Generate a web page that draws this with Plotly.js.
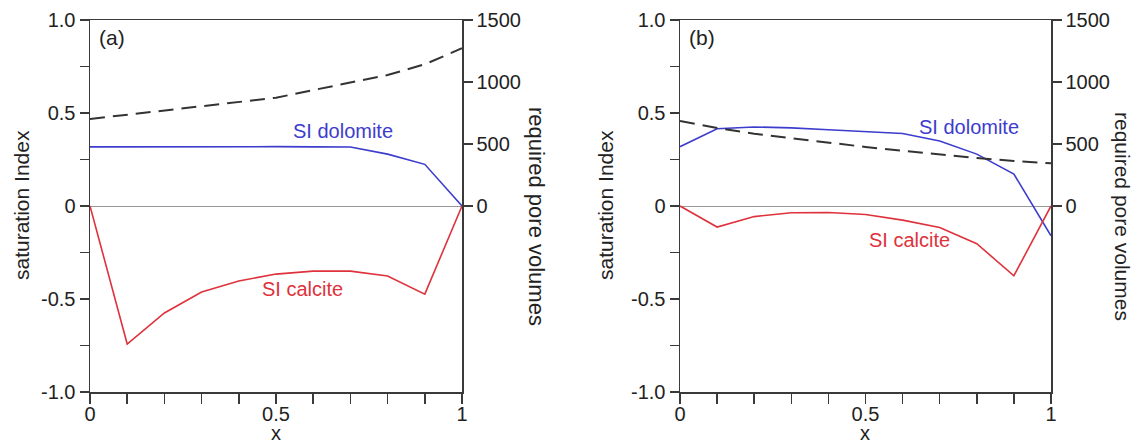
<!DOCTYPE html>
<html>
<head>
<meta charset="utf-8">
<script src="https://cdn.plot.ly/plotly-3.0.1.min.js"></script>
<style>html,body{margin:0;padding:0;background:#fff;}#chart{width:1136px;height:445px;}</style>
</head>
<body>
<div id="chart"></div>
<script>
// ---- data ----
const xPos = [0, 0.1, 0.2, 0.3, 0.4, 0.5, 0.6, 0.7, 0.8, 0.9, 1.0];

// panel (a)
const siDolomiteA = [0.318, 0.319, 0.32, 0.32, 0.32, 0.319, 0.318, 0.317, 0.279, 0.224, 0];
const siCalciteA  = [0, -0.742, -0.575, -0.462, -0.403, -0.366, -0.35, -0.35, -0.376, -0.474, 0];
const poreVolA    = [702, 736, 774, 804, 839, 873, 935, 994, 1056, 1143, 1272];

// panel (b)
const siDolomiteB = [0.319, 0.415, 0.425, 0.42, 0.41, 0.40, 0.39, 0.349, 0.279, 0.172, -0.16];
const siCalciteB  = [0, -0.113, -0.057, -0.036, -0.035, -0.046, -0.076, -0.116, -0.203, -0.375, 0];
const poreVolB    = [686, 629, 583, 546, 508, 476, 446, 414, 387, 363, 344];

// tick labels
const siTickVals = [-1, -0.75, -0.5, -0.25, 0, 0.25, 0.5, 0.75, 1];
const siTickText = ['-1.0', '', '-0.5', '', '0', '', '0.5', '', '1.0'];
const pvTickVals = [0, 500, 1000, 1500];
const pvTickText = ['0', '500', '1000', '1500'];
const xTickVals  = xPos;
const xTickText  = ['0', '', '', '', '', '0.5', '', '', '', '', '1'];

const labelDolomite = 'SI dolomite';
const labelCalcite = 'SI calcite';
const titleLeft = 'saturation Index';
const titleRight = 'required pore volumes';
const titleX = 'x';

// ---- styling ----
const W = 1136, H = 445;
const FONT = '"Liberation Sans", Arial, Helvetica, sans-serif';
const BLUE = 'rgb(60,60,205)';
const RED = 'rgb(222,50,60)';
const AXC = '#3a3a3a';
const TXT = '#222';
const px = v => v / W;
const py = v => 1 - v / H;

const yDom = [py(392), py(20)];
const xDomA = [px(90), px(462)];
const xDomB = [px(680), px(1051)];

function xAxis(dom, anchor) {
  return {
    domain: dom, anchor: anchor, range: [0, 1],
    showline: true, mirror: true, linecolor: AXC, linewidth: 1.5,
    showgrid: false, zeroline: false,
    tickmode: 'array', tickvals: xTickVals, ticktext: xTickText,
    ticks: 'outside', ticklen: 10, tickwidth: 1.5, tickcolor: AXC,
    ticklabelstandoff: -7,
    tickfont: {family: FONT, size: 20, color: TXT}
  };
}
function yLeft(anchor) {
  return {
    domain: yDom, anchor: anchor, range: [-1, 1],
    showline: true, linecolor: AXC, linewidth: 1.5,
    showgrid: false, zeroline: true, zerolinecolor: '#999', zerolinewidth: 1,
    tickmode: 'array', tickvals: siTickVals, ticktext: siTickText,
    ticks: 'outside', ticklen: 9, tickwidth: 1.5, tickcolor: AXC,
    tickfont: {family: FONT, size: 20, color: TXT}
  };
}
function yRight(anchor, over) {
  return {
    domain: yDom, anchor: anchor, overlaying: over, side: 'right', range: [-1500, 1500],
    showline: true, linecolor: AXC, linewidth: 1.5,
    showgrid: false, zeroline: false,
    tickmode: 'array', tickvals: pvTickVals, ticktext: pvTickText,
    ticks: 'outside', ticklen: 9, tickwidth: 1.5, tickcolor: AXC,
    tickfont: {family: FONT, size: 20, color: TXT}
  };
}

const traces = [
  {x: xPos, y: poreVolA, xaxis: 'x', yaxis: 'y2', mode: 'lines', line: {color: '#333', width: 2, dash: '15px,8px'}, hoverinfo: 'none'},
  {x: xPos, y: siDolomiteA, xaxis: 'x', yaxis: 'y', mode: 'lines', line: {color: BLUE, width: 1.6}},
  {x: xPos, y: siCalciteA, xaxis: 'x', yaxis: 'y', mode: 'lines', line: {color: RED, width: 1.6}},
  {x: xPos, y: poreVolB, xaxis: 'x2', yaxis: 'y4', mode: 'lines', line: {color: '#333', width: 2, dash: '15px,8px'}, hoverinfo: 'none'},
  {x: xPos, y: siDolomiteB, xaxis: 'x2', yaxis: 'y3', mode: 'lines', line: {color: BLUE, width: 1.6}},
  {x: xPos, y: siCalciteB, xaxis: 'x2', yaxis: 'y3', mode: 'lines', line: {color: RED, width: 1.6}}
];

function ann(text, x, y, size, color, extra) {
  return Object.assign({
    text: text, xref: 'paper', yref: 'paper', x: px(x), y: py(y),
    xanchor: 'center', yanchor: 'middle', showarrow: false, borderpad: 0,
    font: {family: FONT, size: size, color: color}
  }, extra || {});
}

const annotations = [
  ann('(a)', 112, 37, 21, TXT),
  ann('(b)', 702, 37, 21, TXT),
  ann(labelDolomite, 343, 131, 20, BLUE),
  ann(labelCalcite, 302, 289, 20, RED),
  ann(labelDolomite, 969, 127, 20, BLUE),
  ann(labelCalcite, 909, 240, 20, RED),
  ann(titleLeft, 21, 205, 21, TXT, {textangle: -90}),
  ann(titleLeft, 605, 205, 21, TXT, {textangle: -90}),
  ann(titleRight, 536, 216, 22, TXT, {textangle: 90}),
  ann(titleRight, 1122, 216, 21, TXT, {textangle: 90}),
  ann(titleX, 276, 445, 20, TXT, {yanchor: 'bottom'}),
  ann(titleX, 865, 445, 20, TXT, {yanchor: 'bottom'})
];

const layout = {
  width: W, height: H,
  margin: {l: 0, r: 0, t: 0, b: 0},
  paper_bgcolor: '#fff', plot_bgcolor: '#fff',
  showlegend: false,
  font: {family: FONT, color: TXT},
  xaxis: xAxis(xDomA, 'y'),
  yaxis: yLeft('x'),
  yaxis2: yRight('x', 'y'),
  xaxis2: xAxis(xDomB, 'y3'),
  yaxis3: yLeft('x2'),
  yaxis4: yRight('x2', 'y3'),
  annotations: annotations
};

Plotly.newPlot('chart', traces, layout, {displayModeBar: false, staticPlot: true});
</script>
</body>
</html>
